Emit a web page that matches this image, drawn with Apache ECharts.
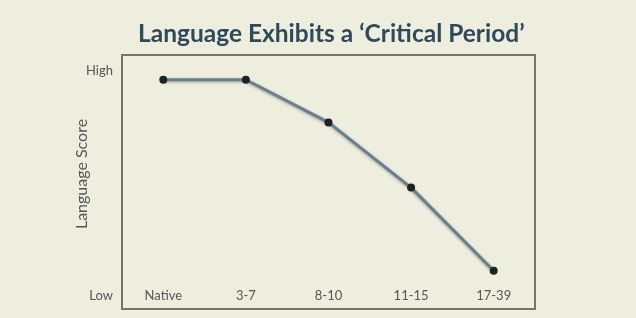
<!DOCTYPE html>
<html>
<head>
<meta charset="utf-8">
<script src="https://cdn.jsdelivr.net/npm/echarts@6/dist/echarts.min.js"></script>
<style>
html,body{margin:0;padding:0;background:#eeeedf;}
#chart{width:636px;height:318px;}
</style>
</head>
<body>
<div id="chart"></div>
<script>
const titleText = 'Language Exhibits a \u2018Critical Period\u2019';
const categories = ['Native', '3-7', '8-10', '11-15', '17-39'];
const scores = [96, 96, 77, 48, 11];
const yTickValues = [0, 100];
const yTickLabels = ['Low', 'High'];
const yAxisName = 'Language Score';

const chart = echarts.init(document.getElementById('chart'));
chart.setOption({
  backgroundColor: '#eeeedf',
  animation: false,
  title: {
    text: titleText,
    left: 133,
    top: 17,
    textStyle: { fontFamily: 'Lato', fontWeight: 'bold', fontSize: 24.5, color: '#2e4a5a' }
  },
  grid: {
    left: 122, top: 55, width: 413, height: 254,
    show: true, borderColor: '#74746c', borderWidth: 2, backgroundColor: 'transparent'
  },
  xAxis: {
    type: 'category',
    data: categories,
    boundaryGap: true,
    axisLine: { show: false },
    axisTick: { show: false },
    axisLabel: { inside: true, margin: 7, fontFamily: 'Lato', fontSize: 13, color: '#555' }
  },
  yAxis: {
    type: 'value',
    min: -6, max: 107,
    splitLine: { show: false },
    axisLine: { show: false },
    axisTick: { show: false },
    name: yAxisName,
    nameLocation: 'middle',
    nameGap: 32,
    nameMoveOverlap: false,
    nameTextStyle: { fontFamily: 'Lato', fontSize: 16, color: '#555', padding: [0, 0, 0, 16] },
    axisLabel: {
      customValues: yTickValues,
      margin: 9,
      fontFamily: 'Lato', fontSize: 13, color: '#555',
      formatter: v => yTickLabels[yTickValues.indexOf(v)] || ''
    }
  },
  series: [{
    type: 'line',
    data: scores,
    symbol: 'circle',
    symbolSize: 8,
    itemStyle: { color: '#1e2220' },
    lineStyle: { color: '#687f92', width: 3, shadowColor: 'rgba(0,0,0,0.35)', shadowBlur: 3, shadowOffsetY: 1 }
  }]
});
</script>
</body>
</html>
